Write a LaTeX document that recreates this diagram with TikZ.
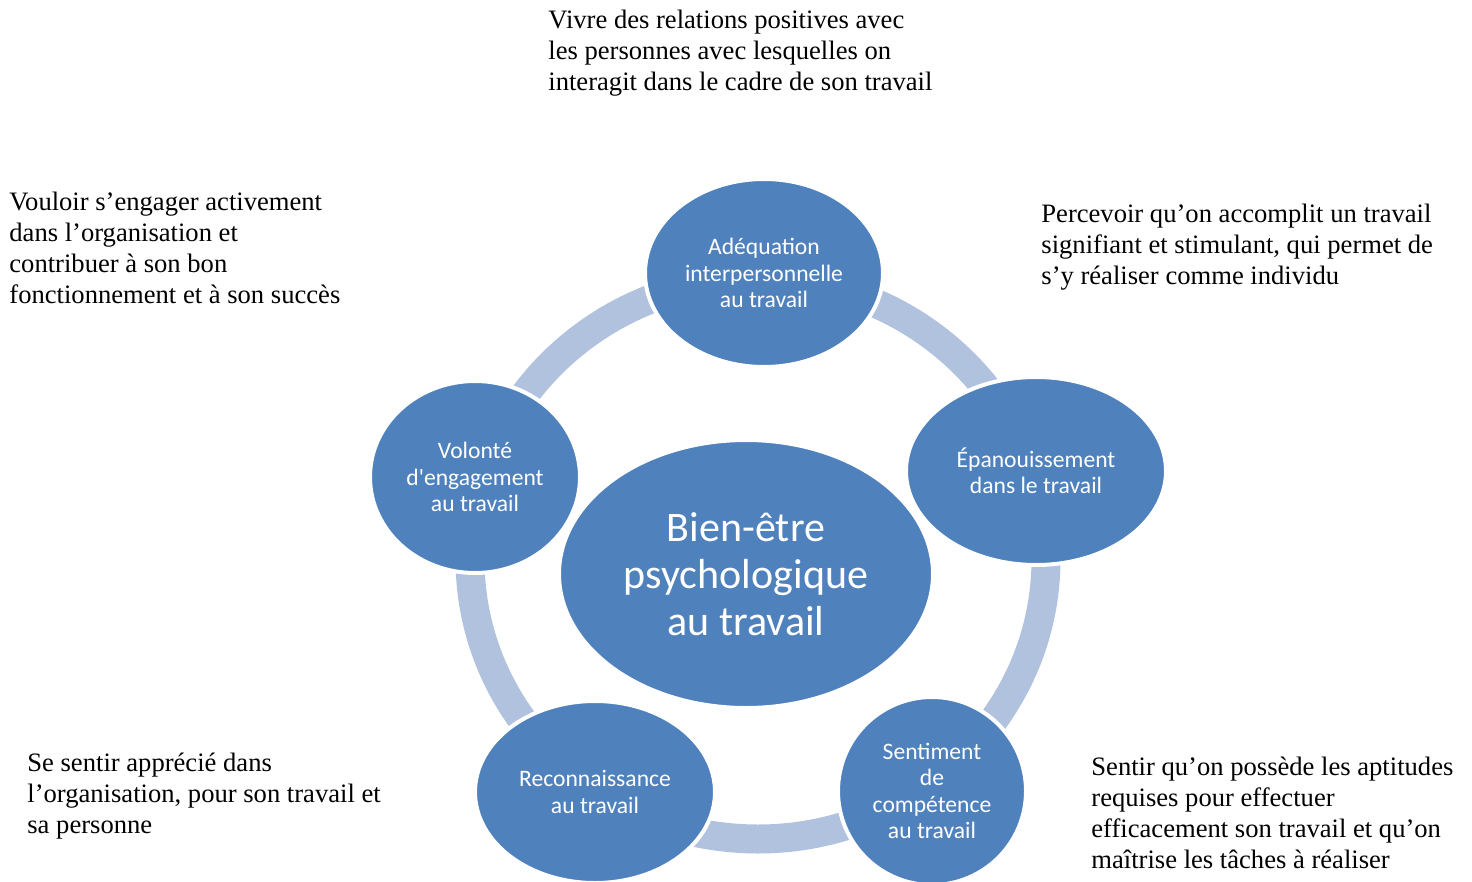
\documentclass[tikz,border=0pt]{standalone}
\usepackage{fontspec}
\setmainfont{Liberation Serif}
\newfontfamily\calibri{Carlito}
\usetikzlibrary{shapes.geometric}
\definecolor{nodeblue}{HTML}{4F81BD}
\definecolor{ringblue}{HTML}{B1C2DE}
\begin{document}
\begin{tikzpicture}[x=0.5pt,y=-0.5pt,
  bubble/.style={ellipse, fill=nodeblue, draw=white, line width=2pt, text=white,
    font=\calibri\fontsize{11.8}{13.2}\selectfont, align=center, inner sep=0pt},
  bigbubble/.style={bubble, font=\calibri\fontsize{21}{23.5}\selectfont},
  desc/.style={anchor=north west, align=left, inner sep=0pt,
    font=\fontsize{13.3}{15.5}\selectfont},
  ring/.style={draw=ringblue, line width=14.5pt}]
\useasboundingbox (0,0) rectangle (1472,882);
% ring
\coordinate (rc) at (758,559);
\draw[ring] (rc) ellipse [x radius=288, y radius=280];
% nodes
\node[bigbubble, minimum width=187pt, minimum height=134pt] (center) at (746,574)
  {Bien-être\\psychologique\\au travail};
\node[bubble, minimum width=119pt, minimum height=94pt] (adeq) at (764,273)
  {Adéquation\\interpersonnelle\\au travail};
\node[bubble, minimum width=130pt, minimum height=94pt] (epan) at (1036,471)
  {Épanouissement\\dans le travail};
\node[bubble, minimum width=94pt, minimum height=94pt] (comp) at (932,791)
  {Sentiment\\de\\compétence\\au travail};
\node[bubble, minimum width=120pt, minimum height=91pt] (reco) at (595,792)
  {Reconnaissance\\au travail};
\node[bubble, minimum width=105pt, minimum height=96pt] (volo) at (475,477)
  {Volonté\\d'engagement\\au travail};
% descriptions
\node[desc] (dadeq) at (548,10)
  {Vivre des relations positives avec\\les personnes avec lesquelles on\\interagit dans le cadre de son travail};
\node[desc] (dvolo) at (9,192)
  {Vouloir s’engager activement\\dans l’organisation et\\contribuer à son bon\\fonctionnement et à son succès};
\node[desc] (depan) at (1041,204)
  {Percevoir qu’on accomplit un travail\\signifiant et stimulant, qui permet de\\s’y réaliser comme individu};
\node[desc] (dreco) at (27,753)
  {Se sentir apprécié dans\\l’organisation, pour son travail et\\sa personne};
\node[desc] (dcomp) at (1091,757)
  {Sentir qu’on possède les aptitudes\\requises pour effectuer\\efficacement son travail et qu’on\\maîtrise les tâches à réaliser};
\end{tikzpicture}
\end{document}
